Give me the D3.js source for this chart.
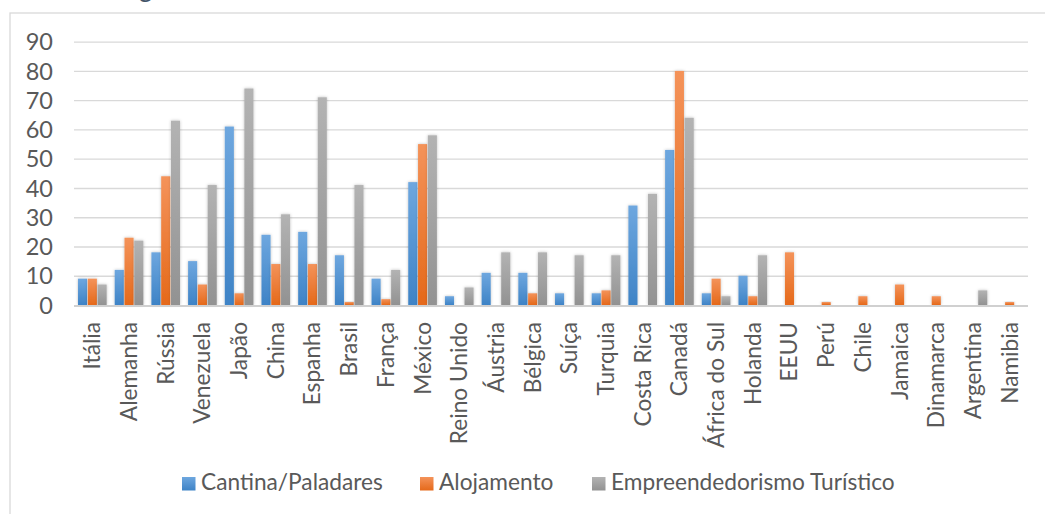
<!DOCTYPE html>
<html><head><meta charset="utf-8">
<script src="https://cdn.jsdelivr.net/npm/d3@7"></script>
<style>
html,body{margin:0;padding:0;background:#fff;}
svg{display:block;}
</style></head>
<body>
<svg id="chart" width="1045" height="514"></svg>
<script>
const categories = ["Itália","Alemanha","Rússia","Venezuela","Japão","China","Espanha","Brasil","França","México","Reino Unido","Áustria","Bélgica","Suíça","Turquia","Costa Rica","Canadá","África do Sul","Holanda","EEUU","Perú","Chile","Jamaica","Dinamarca","Argentina","Namibia"];
const seriesNames = ["Cantina/Paladares","Alojamento","Empreendedorismo Turístico"];
const cantina = [9,12,18,15,61,24,25,17,9,42,3,11,11,4,4,34,53,4,10,0,0,0,0,0,0,0];
const alojamento = [9,23,44,7,4,14,14,1,2,55,0,0,4,0,5,0,80,9,3,18,1,3,7,3,0,1];
const empreend = [7,22,63,41,74,31,71,41,12,58,6,18,18,17,17,38,64,3,17,0,0,0,0,0,5,0];
const yTicks = [0,10,20,30,40,50,60,70,80,90];

const seriesValues = [cantina, alojamento, empreend];
const colors = [
  {top:"#6ea7df", bot:"#3e83c6"},
  {top:"#f4935a", bot:"#e5691a"},
  {top:"#b3b3b3", bot:"#929292"}
];
const FONT = "Lato, 'Open Sans', sans-serif";
const FS = 22.7;
const TXT = "#595959";

const svg = d3.select("#chart");
const defs = svg.append("defs");
colors.forEach((c,i)=>{
  const g = defs.append("linearGradient").attr("id","g"+i).attr("x1",0).attr("x2",0).attr("y1",0).attr("y2",1);
  g.append("stop").attr("offset","0%").attr("stop-color",c.top);
  g.append("stop").attr("offset","100%").attr("stop-color",c.bot);
});
const f = defs.append("filter").attr("id","sh").attr("x","-50%").attr("y","-20%").attr("width","200%").attr("height","140%");
f.append("feDropShadow").attr("dx",0).attr("dy",0).attr("stdDeviation",1.6).attr("flood-color","#000").attr("flood-opacity",0.25);

// partial title (cut off at the top edge, as in the reference)
svg.append("text").attr("x",139).attr("y",-3).attr("font-family",FONT).attr("font-size",26).attr("fill","#44546a").text("g");

// chart area border
svg.append("rect").attr("x",10).attr("y",13).attr("width",1100).attr("height",600)
  .attr("fill","none").attr("stroke","#d9d9d9").attr("stroke-width",1.3);

const x0 = d3.scaleBand().domain(categories).range([74,1028]).paddingInner(0.2).paddingOuter(0.1);
const x1 = d3.scaleBand().domain(d3.range(3)).range([0,x0.bandwidth()]);
const y = d3.scaleLinear().domain([0,90]).range([305,41.7]);

// gridlines + y tick labels
const yAxis = d3.axisLeft(y).tickValues(yTicks).tickSize(-(1028-74)).tickPadding(21).tickFormat(d3.format("d"));
const ga = svg.append("g").attr("transform","translate(74,0)").call(yAxis);
ga.select(".domain").remove();
ga.selectAll(".tick line").attr("stroke","#d9d9d9").attr("stroke-width",1.3);
ga.selectAll(".tick text").attr("font-family",FONT).attr("font-size",FS+0.8).attr("fill",TXT).attr("dy","0.35em");
ga.selectAll(".tick").filter(d=>d===0).select("line").remove();

// bars
const groups = svg.append("g").selectAll("g").data(categories).join("g")
  .attr("transform",d=>`translate(${x0(d)},0)`);
groups.selectAll("rect").data((d,i)=>seriesValues.map((s,k)=>({k,v:s[i]})).filter(o=>o.v>0)).join("rect")
  .attr("x",o=>x1(o.k)+0.35).attr("width",x1.bandwidth()-0.7)
  .attr("y",o=>y(o.v)).attr("height",o=>y(0)-y(o.v))
  .attr("fill",o=>`url(#g${o.k})`).attr("filter","url(#sh)");

// baseline
svg.append("line").attr("x1",74).attr("x2",1028).attr("y1",y(0)+1).attr("y2",y(0)+1)
  .attr("stroke","#d0d0d0").attr("stroke-width",2.2);

// x labels
const xAxis = d3.axisBottom(x0).tickSize(0).tickPadding(0);
const gx = svg.append("g").attr("transform",`translate(0,${y(0)})`).call(xAxis);
gx.select(".domain").remove();
gx.selectAll(".tick text").attr("font-family",FONT).attr("font-size",FS).attr("fill",TXT)
  .attr("text-anchor","end").attr("transform","rotate(-90)").attr("x",-17).attr("y",0).attr("dy","0.35em");

// legend
const legendX = [182,420,592];
const lg = svg.append("g").selectAll("g").data(seriesNames).join("g")
  .attr("transform",(d,i)=>`translate(${legendX[i]},477)`);
lg.append("rect").attr("width",13.5).attr("height",13.5).attr("fill",(d,i)=>`url(#g${i})`);
lg.append("text").attr("x",19).attr("y",13.3).attr("font-family",FONT).attr("font-size",FS).attr("fill",TXT).text(d=>d);
</script>
</body></html>
